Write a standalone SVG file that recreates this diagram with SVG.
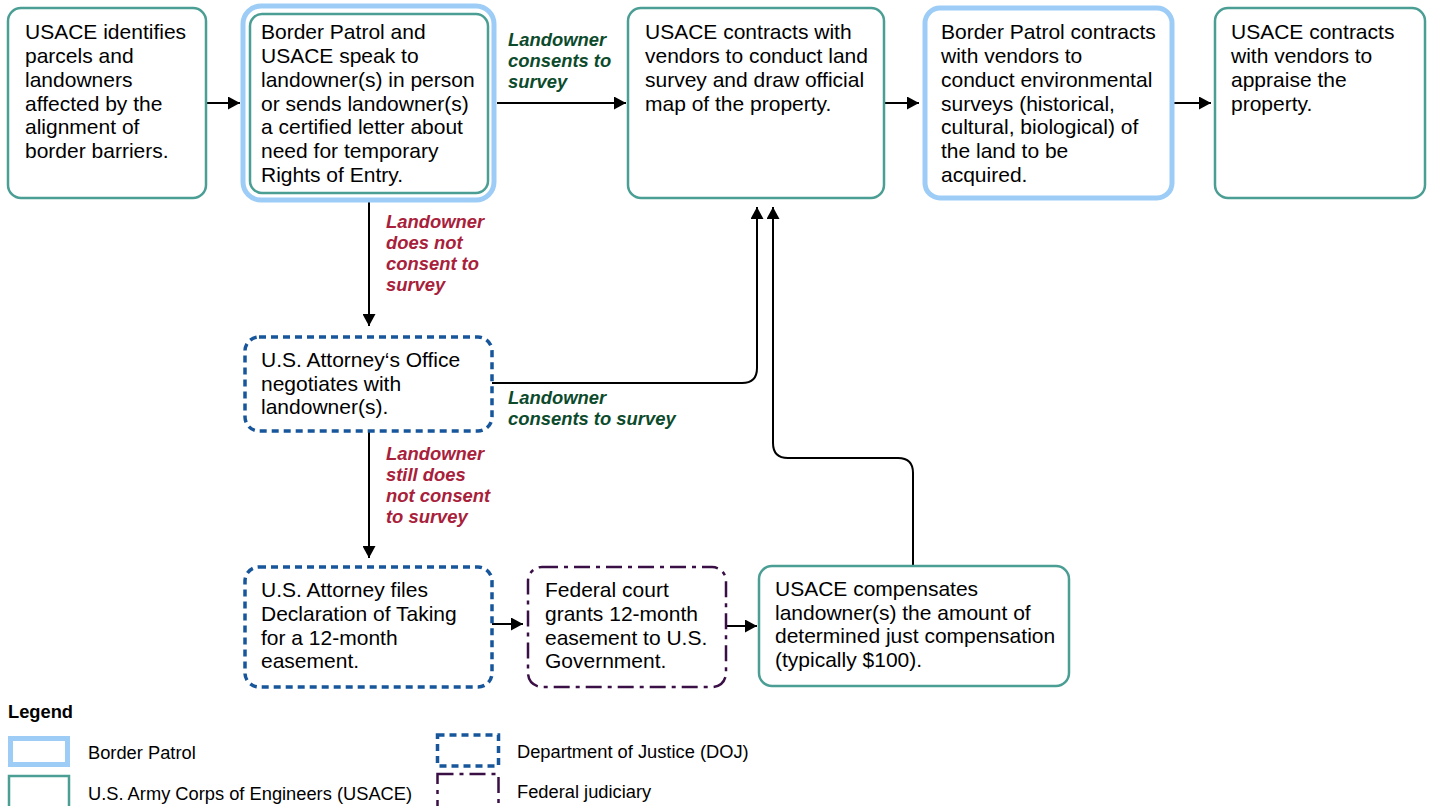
<svg xmlns="http://www.w3.org/2000/svg" width="1431" height="806" viewBox="0 0 1431 806">
<style>
.t{font-family:"Liberation Sans",Arial,sans-serif;font-size:21px;fill:#000}
.usace{fill:#fff;stroke:#4a9e94;stroke-width:2.5}
.bp{fill:#fff;stroke:#9dcdf7;stroke-width:5}
.doj{fill:#fff;stroke:#17569a;stroke-width:3.5;stroke-dasharray:7 5}
.jud{fill:#fff;stroke:#3a0f45;stroke-width:2.5;stroke-dasharray:16 6 4 6}
.lbl{font-family:"Liberation Sans",Arial,sans-serif;font-size:18.4px;font-weight:bold;font-style:italic}
.g{fill:#0c4a2c}
.r{fill:#a8203a}
.c{fill:none;stroke:#000;stroke-width:2;marker-end:url(#ah)}
.lg{font-family:"Liberation Sans",Arial,sans-serif;font-size:18.3px;fill:#000}
</style>
<defs>
<marker id="ah" markerUnits="userSpaceOnUse" markerWidth="13" markerHeight="13" refX="12" refY="6.5" orient="auto">
<path d="M0,0 L12,6.5 L0,13 z" fill="#000"/>
</marker>
</defs>
<rect width="1431" height="806" fill="#fff"/>
<g id="connectors">
<path class="c" d="M206,103 H240"/>
<path class="c" d="M497,103 H626"/>
<path class="c" d="M885,103 H919"/>
<path class="c" d="M1174,103 H1211"/>
<path class="c" d="M369,200 V326"/>
<path class="c" d="M369,431 V558"/>
<path class="c" d="M492,624 H523"/>
<path class="c" d="M726,626 H757"/>
<path class="c" d="M492,383 H742 Q757,383 757,368 V207"/>
<path class="c" d="M913,566 V473 Q913,458 898,458 H788 Q773,458 773,443 V207"/>
<text class="lbl g"><tspan x="508" y="46">Landowner</tspan><tspan x="508" y="67">consents to</tspan><tspan x="508" y="88">survey</tspan></text>
<text class="lbl r"><tspan x="386" y="228">Landowner</tspan><tspan x="386" y="249">does not</tspan><tspan x="386" y="270">consent to</tspan><tspan x="386" y="291">survey</tspan></text>
<text class="lbl g"><tspan x="508" y="404">Landowner</tspan><tspan x="508" y="425">consents to survey</tspan></text>
<text class="lbl r"><tspan x="386" y="460">Landowner</tspan><tspan x="386" y="481">still does</tspan><tspan x="386" y="502">not consent</tspan><tspan x="386" y="523">to survey</tspan></text>
</g>
<g id="n1">
<rect class="usace" x="8" y="8" width="198" height="190" rx="13"/>
<text class="t"><tspan x="25" y="39">USACE identifies</tspan><tspan x="25" y="63">parcels and</tspan><tspan x="25" y="87">landowners</tspan><tspan x="25" y="111">affected by the</tspan><tspan x="25" y="134">alignment of</tspan><tspan x="25" y="158">border barriers.</tspan></text>
</g>
<g id="n2">
<rect class="bp" x="243" y="6" width="251" height="194" rx="18"/>
<rect class="usace" x="250" y="14" width="238" height="179" rx="12"/>
<text class="t"><tspan x="261" y="39">Border Patrol and</tspan><tspan x="261" y="63">USACE speak to</tspan><tspan x="261" y="87">landowner(s) in person</tspan><tspan x="261" y="111">or sends landowner(s)</tspan><tspan x="261" y="134">a certified letter about</tspan><tspan x="261" y="158">need for temporary</tspan><tspan x="261" y="182">Rights of Entry.</tspan></text>
</g>
<g id="n3">
<rect class="usace" x="628" y="8" width="256" height="190" rx="13"/>
<text class="t"><tspan x="645" y="39">USACE contracts with</tspan><tspan x="645" y="63">vendors to conduct land</tspan><tspan x="645" y="87">survey and draw official</tspan><tspan x="645" y="111">map of the property.</tspan></text>
</g>
<g id="n4">
<rect class="bp" x="925" y="8" width="247" height="190" rx="15"/>
<text class="t"><tspan x="941" y="39">Border Patrol contracts</tspan><tspan x="941" y="63">with vendors to</tspan><tspan x="941" y="87">conduct environmental</tspan><tspan x="941" y="111">surveys (historical,</tspan><tspan x="941" y="134">cultural, biological) of</tspan><tspan x="941" y="158">the land to be</tspan><tspan x="941" y="182">acquired.</tspan></text>
</g>
<g id="n5">
<rect class="usace" x="1215" y="8" width="210" height="190" rx="13"/>
<text class="t"><tspan x="1231" y="39">USACE contracts</tspan><tspan x="1231" y="63">with vendors to</tspan><tspan x="1231" y="87">appraise the</tspan><tspan x="1231" y="111">property.</tspan></text>
</g>
<g id="n6">
<rect class="doj" x="245" y="337" width="247" height="94" rx="14"/>
<text class="t"><tspan x="261" y="367">U.S. Attorney‘s Office</tspan><tspan x="261" y="391">negotiates with</tspan><tspan x="261" y="414">landowner(s).</tspan></text>
</g>
<g id="n7">
<rect class="doj" x="245" y="567" width="247" height="120" rx="14"/>
<text class="t"><tspan x="261" y="597">U.S. Attorney files</tspan><tspan x="261" y="621">Declaration of Taking</tspan><tspan x="261" y="645">for a 12-month</tspan><tspan x="261" y="668">easement.</tspan></text>
</g>
<g id="n8">
<rect class="jud" x="528" y="567" width="198" height="120" rx="14"/>
<text class="t"><tspan x="545" y="597">Federal court</tspan><tspan x="545" y="621">grants 12-month</tspan><tspan x="545" y="645">easement to U.S.</tspan><tspan x="545" y="668">Government.</tspan></text>
</g>
<g id="n9">
<rect class="usace" x="759" y="566" width="310" height="120" rx="13"/>
<text class="t"><tspan x="775" y="596">USACE compensates</tspan><tspan x="775" y="620">landowner(s) the amount of</tspan><tspan x="775" y="643">determined just compensation</tspan><tspan x="775" y="667">(typically $100).</tspan></text>
</g>
<g id="legend">
<text class="lg" x="8" y="718" font-weight="bold">Legend</text>
<rect x="10.5" y="738.5" width="57" height="26" fill="#fff" stroke="#9dcdf7" stroke-width="5"/>
<text class="lg" x="88" y="759">Border Patrol</text>
<rect x="9" y="776" width="60" height="40" fill="#fff" stroke="#4a9e94" stroke-width="2.5"/>
<text class="lg" x="88" y="800">U.S. Army Corps of Engineers (USACE)</text>
<rect x="437.5" y="735" width="61" height="31" fill="#fff" stroke="#17569a" stroke-width="3.5" stroke-dasharray="7 5"/>
<text class="lg" x="517" y="758">Department of Justice (DOJ)</text>
<rect x="437.5" y="774" width="61" height="40" fill="#fff" stroke="#3a0f45" stroke-width="2.5" stroke-dasharray="16 6 4 6"/>
<text class="lg" x="517" y="798">Federal judiciary</text>
</g>
</svg>
